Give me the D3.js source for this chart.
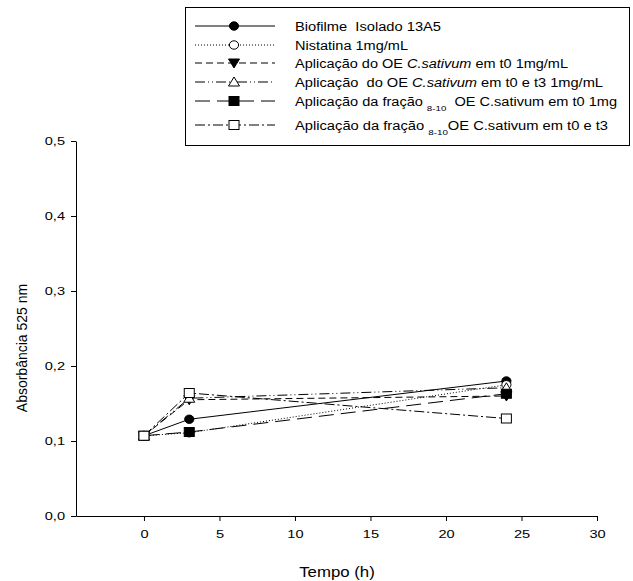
<!DOCTYPE html>
<html>
<head>
<script type="text/javascript" src="https://cdn.jsdelivr.net/npm/d3@7"></script>
<style>
  body { margin: 0; background: #fff; }
  text { font-family: "Liberation Sans", Arial, sans-serif; fill: #000; }
</style>
</head>
<body>
<div id="viz"></div>
<script type="text/javascript">
    // data
    var times = [0, 3, 24];
    var biofilme   = [0.107, 0.129, 0.180];
    var nistatina  = [0.107, 0.111, 0.175];
    var oeT0       = [0.107, 0.155, 0.160];
    var oeT0T3     = [0.107, 0.157, 0.171];
    var fracaoT0   = [0.107, 0.112, 0.163];
    var fracaoT0T3 = [0.107, 0.164, 0.130];
    var xTicks = [0, 5, 10, 15, 20, 25, 30];
    var yTicks = [0, 0.1, 0.2, 0.3, 0.4, 0.5];

    var series = [
        { vals: biofilme,   dash: null,           sym: "circle",  fill: "#000", label: ["Biofilme\u00a0 Isolado 13A5"] },
        { vals: nistatina,  dash: "1,2",          sym: "circle",  fill: "#fff", label: ["Nistatina 1mg/mL"] },
        { vals: oeT0,       dash: "7,4",          sym: "triDown", fill: "#000", label: ["Aplicação do OE ", ["C.sativum", "i"], " em t0 1mg/mL"] },
        { vals: oeT0T3,     dash: "10,3,1,3,1,3", sym: "triUp",   fill: "#fff", label: ["Aplicação\u00a0 do OE ", ["C.sativum", "i"], " em t0 e t3 1mg/mL"] },
        { vals: fracaoT0,   dash: "15,7",         sym: "square",  fill: "#000", label: ["Aplicação da fração ", ["8-10", "s"], "\u00a0 OE C.sativum em t0 1mg"] },
        { vals: fracaoT0T3, dash: "10,3,2,3",     sym: "square",  fill: "#fff", label: ["Aplicação da fração ", ["8-10", "s"], "OE C.sativum em t0 e t3"] }
    ];

    var SX = 1.27; // the picture is stretched sideways
    // right end of each legend text in the picture (layout only)
    var legendTextEnd = [441, 408, 568, 603, 617, 608];

    var svg = d3.select("#viz").append("svg:svg")
        .attr("width", 633)
        .attr("height", 581);

    var x = d3.scaleLinear().domain([-4.5, 30]).range([76, 597]);
    var y = d3.scaleLinear().domain([0, 0.5]).range([516, 141]);

    var fmt = function (d) { return d3.format(".1f")(d).replace(".", ","); };

    // axes
    var gx = svg.append("g").attr("transform", "translate(0,516)")
        .call(d3.axisBottom(x).tickValues(xTicks).tickSize(5).tickSizeOuter(0).tickPadding(10));
    var gy = svg.append("g").attr("transform", "translate(76,0)")
        .call(d3.axisLeft(y).tickValues(yTicks).tickSize(5).tickSizeOuter(0).tickFormat(fmt).tickPadding(6));
    [gx, gy].forEach(function (g) {
        g.select(".domain").attr("stroke", "#000");
        g.selectAll(".tick line").attr("stroke", "#000");
        g.selectAll("text").style("font-family", "Liberation Sans, Arial, sans-serif")
            .style("font-size", "11.5px").attr("fill", "#000");
    });
    gx.selectAll(".tick text").attr("transform", "scale(" + SX + ",1)")
        .attr("x", 0).attr("y", 14).attr("dy", "0.71em");
    gy.selectAll(".tick text").attr("transform", "translate(-11,0) scale(" + SX + ",1)")
        .attr("x", 0);

    svg.append("text").attr("transform", "translate(337,577) scale(1.2,1)").attr("text-anchor", "middle")
        .style("font-size", "14px").text("Tempo (h)");
    svg.append("text").attr("transform", "translate(27,348) rotate(-90)").attr("text-anchor", "middle")
        .style("font-size", "14px").text("Absorbância 525 nm");

    function marker(g, sym, fill, cx, cy) {
        var s;
        if (sym === "circle") {
            s = g.append("ellipse").attr("cx", cx).attr("cy", cy).attr("rx", 4.6).attr("ry", 4.2);
        } else if (sym === "square") {
            s = g.append("rect").attr("x", cx - 5).attr("y", cy - 4.5).attr("width", 10).attr("height", 9);
        } else if (sym === "triUp") {
            s = g.append("path").attr("d", "M" + cx + "," + (cy - 5) + "L" + (cx + 5.5) + "," + (cy + 4) + "L" + (cx - 5.5) + "," + (cy + 4) + "Z");
        } else {
            s = g.append("path").attr("d", "M" + cx + "," + (cy + 5) + "L" + (cx + 5.5) + "," + (cy - 4) + "L" + (cx - 5.5) + "," + (cy - 4) + "Z");
        }
        s.attr("fill", fill).attr("stroke", "#000").attr("stroke-width", 1);
    }

    var line = d3.line().x(function (d, i) { return x(times[i]); }).y(function (d) { return y(d); });

    series.forEach(function (s) {
        svg.append("path").datum(s.vals).attr("d", line)
            .attr("fill", "none").attr("stroke", "#000").attr("stroke-width", 1)
            .attr("stroke-dasharray", s.dash);
    });
    series.forEach(function (s) {
        s.vals.forEach(function (v, i) { marker(svg, s.sym, s.fill, x(times[i]), y(v)); });
    });

    // legend
    var lg = svg.append("g");
    lg.append("rect").attr("x", 185.5).attr("y", 7.5).attr("width", 444).attr("height", 138)
        .attr("fill", "#fff").attr("stroke", "#000").attr("stroke-width", 1);
    var rowY = [26, 45, 63, 82, 101, 125];
    series.forEach(function (s, k) {
        var yy = rowY[k];
        lg.append("line").attr("x1", 195).attr("x2", 275).attr("y1", yy).attr("y2", yy)
            .attr("stroke", "#000").attr("stroke-width", 1).attr("stroke-dasharray", s.dash);
        marker(lg, s.sym, s.fill, 234, yy);
        var t = lg.append("text").style("font-size", "12px")
            .attr("x", 295).attr("y", yy + 4.5)
            .attr("textLength", legendTextEnd[k] - 295)
            .attr("lengthAdjust", "spacingAndGlyphs");
        var shifted = false;
        s.label.forEach(function (p) {
            var ts;
            if (typeof p === "string") {
                ts = t.append("tspan").text(p);
                if (shifted) { ts.attr("dy", -5); shifted = false; }
            } else if (p[1] === "i") {
                t.append("tspan").style("font-style", "italic").text(p[0]);
            } else {
                t.append("tspan").attr("dy", 5).style("font-size", "8px").text(p[0]);
                shifted = true;
            }
        });
    });
</script>
</body>
</html>
